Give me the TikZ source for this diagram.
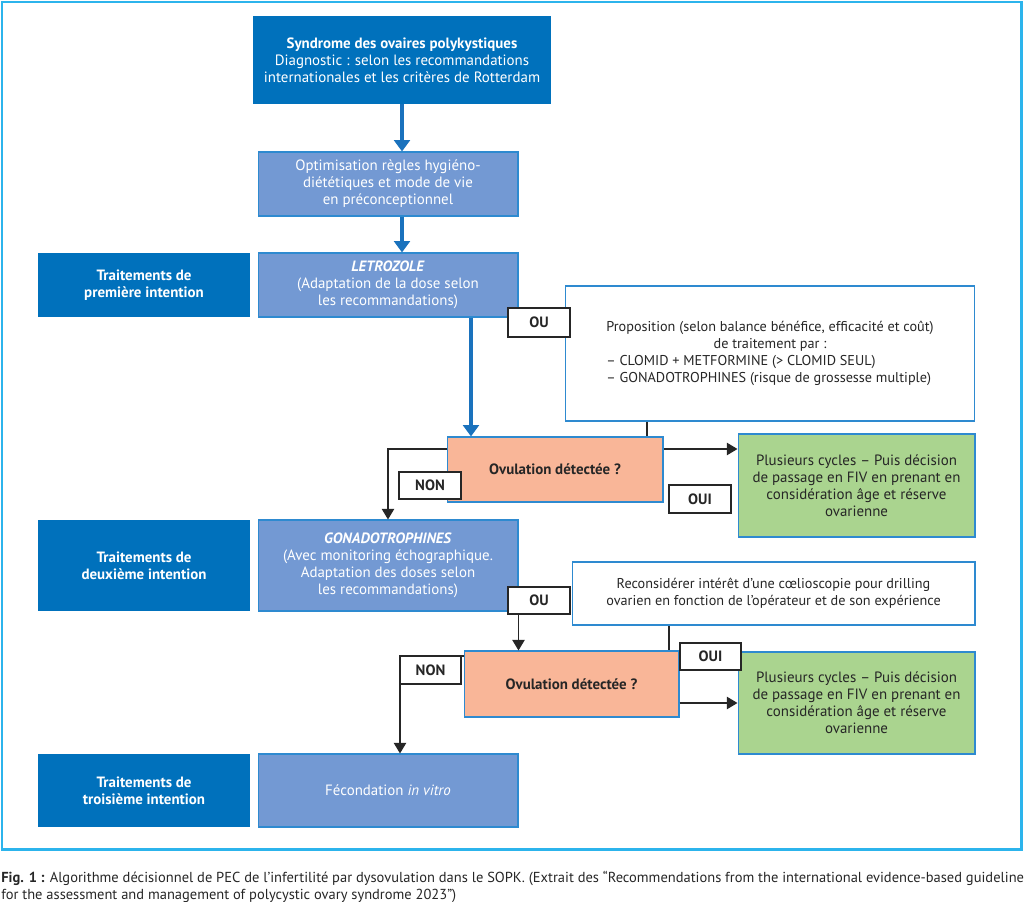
\documentclass[tikz,border=0pt]{standalone}
\usepackage{fontspec}
\setmainfont{PT Sans}
\usetikzlibrary{arrows.meta,positioning,calc}
\definecolor{frameblue}{HTML}{2CB4EC}
\definecolor{darkblue}{HTML}{0071BC}
\definecolor{midblue}{HTML}{7399D3}
\definecolor{edgeblue}{HTML}{2E8AD0}
\definecolor{salmon}{HTML}{F9B698}
\definecolor{leafgreen}{HTML}{AAD48F}
\definecolor{arrowblue}{HTML}{1A72BD}
\newcommand{\chartfont}{\fontsize{8.5}{9.7}\selectfont}
\newcommand{\notefont}{\fontsize{8.1}{9.8}\selectfont}
\newcommand{\capfont}{\fontsize{8.25}{9.4}\selectfont}
\tikzset{
  levelbox/.style={fill=darkblue,text=white,font=\chartfont\bfseries,align=center,inner sep=0pt},
  stepbox/.style={fill=midblue,draw=edgeblue,line width=0.6pt,text=white,font=\chartfont,align=center,inner sep=0pt},
  notebox/.style={fill=white,draw=edgeblue,line width=0.6pt,text=black!85,font=\notefont,align=center,inner sep=0pt},
  askbox/.style={fill=salmon,draw=edgeblue,line width=0.6pt,text=black!85,font=\chartfont\bfseries,align=center,inner sep=0pt},
  endbox/.style={fill=leafgreen,draw=edgeblue,line width=0.6pt,text=black!85,font=\chartfont,align=center,inner sep=0pt},
  tag/.style={fill=white,draw=black!85,line width=0.6pt,text=black!85,font=\chartfont\bfseries,inner sep=0pt},
  flow/.style={-{Triangle[width=9pt,length=6.5pt]},arrowblue,line width=2.8pt},
  link/.style={-{Triangle[width=7pt,length=6pt]},black!85,line width=0.7pt},
  plain/.style={black!85,line width=0.7pt}
}

\begin{document}
\begin{tikzpicture}[x=0.02cm,y=-0.02cm]
  \useasboundingbox (0,0) rectangle (1024,902);
  % outer frame
  \draw[frameblue,line width=1.7pt] (2,2) rectangle (1021,849);
  % main column
  \node[levelbox,minimum width=5.96cm,minimum height=1.76cm] (sopk) at (402,60)
    {Syndrome des ovaires polykystiques\\\mdseries Diagnostic : selon les recommandations\\\mdseries internationales et les critères de Rotterdam};
  \node[stepbox,minimum width=5.2cm,minimum height=1.28cm] (optim) at (388,184)
    {Optimisation règles hygiéno-\\diététiques et mode de vie\\en préconceptionnel};
  % first line of treatment
  \node[levelbox,minimum width=4.24cm,minimum height=1.28cm] (lvl1) at (144,285)
    {Traitements de\\première intention};
  \node[stepbox,minimum width=5.2cm,minimum height=1.28cm] (letro) at (388,285)
    {\textbf{\textit{LETROZOLE}}\\(Adaptation de la dose selon\\les recommandations)};
  \node[notebox,minimum width=8.2cm,minimum height=2.7cm] (prop) at (770,353.5)
    {\begin{tabular}{@{}l@{}}
     \multicolumn{1}{@{}c@{}}{Proposition (selon balance bénéfice, efficacité et coût)}\\
     \multicolumn{1}{@{}c@{}}{de traitement par :}\\
     – CLOMID + METFORMINE (> CLOMID SEUL)\\
     – GONADOTROPHINES (risque de grossesse multiple)
     \end{tabular}};
  \node[askbox,minimum width=4.32cm,minimum height=1.3cm] (ovul1) at (555,469.5)
    {Ovulation détectée ?};
  \node[endbox,minimum width=4.74cm,minimum height=2.06cm] (fiv1) at (856.5,485.5)
    {Plusieurs cycles – Puis décision\\de passage en FIV en prenant en\\considération âge et réserve\\ovarienne};
  % second line of treatment
  \node[levelbox,minimum width=4.24cm,minimum height=1.82cm] (lvl2) at (144,565.5)
    {Traitements de\\deuxième intention};
  \node[stepbox,minimum width=5.2cm,minimum height=1.82cm] (gonado) at (388,565.5)
    {\textbf{\textit{GONADOTROPHINES}}\\(Avec monitoring échographique.\\Adaptation des doses selon\\les recommandations)};
  \node[notebox,minimum width=8.06cm,minimum height=1.26cm] (drill) at (773.5,593.5)
    {Reconsidérer intérêt d’une cœlioscopie pour drilling\\ovarien en fonction de l’opérateur et de son expérience};
  \node[askbox,minimum width=4.3cm,minimum height=1.32cm] (ovul2) at (571.5,684)
    {Ovulation détectée ?};
  \node[endbox,minimum width=4.74cm,minimum height=2.04cm] (fiv2) at (856.5,703)
    {Plusieurs cycles – Puis décision\\de passage en FIV en prenant en\\considération âge et réserve\\ovarienne};
  % third line of treatment
  \node[levelbox,minimum width=4.24cm,minimum height=1.46cm] (lvl3) at (144,790.5)
    {Traitements de\\troisième intention};
  \node[stepbox,minimum width=5.2cm,minimum height=1.46cm] (ivf) at (388,790.5)
    {Fécondation \textit{in vitro}};
  % connectors
  \draw[flow] (sopk.south) -- (sopk.south |- optim.north);
  \draw[flow] (sopk.south |- optim.south) -- (sopk.south |- letro.north);
  \draw[flow] ([xshift=1.66cm]letro.south) -- ([xshift=1.66cm]letro.south |- ovul1.north);
  \draw[plain] ([xshift=-2.46cm]prop.south) -- ([xshift=-2.46cm]prop.south |- ovul1.north);
  \draw[link] ([yshift=0.41cm]ovul1.west) -| (gonado.north);
  \draw[link] ([yshift=0.41cm]ovul1.east) -- ([yshift=0.41cm]ovul1.east -| fiv1.west);
  \draw[link] (gonado.south east) -- (gonado.south east |- ovul2.north);
  \draw[plain] ([xshift=-2.09cm]drill.south) -- ([xshift=-2.09cm]drill.south |- ovul2.north);
  \draw[link] ([yshift=0.56cm]ovul2.west) -| ([xshift=0.24cm]ivf.north);
  \draw[link] ([yshift=-0.38cm]ovul2.east) -- ([yshift=-0.38cm]ovul2.east -| fiv2.west);
  % answer tags
  \node[tag,minimum width=1.24cm,minimum height=0.58cm] (ou1) at (539,322.5) {OU};
  \node[tag,minimum width=1.24cm,minimum height=0.54cm] (non1) at (430,485.5) {NON};
  \node[tag,minimum width=1.24cm,minimum height=0.56cm] (oui1) at (700,499) {OUI};
  \node[tag,minimum width=1.24cm,minimum height=0.54cm] (ou2) at (539,600.5) {OU};
  \node[tag,minimum width=1.22cm,minimum height=0.56cm] (non2) at (430.5,670) {NON};
  \node[tag,minimum width=1.22cm,minimum height=0.54cm] (oui2) at (710.5,656.5) {OUI};
  % caption
  \node[anchor=north west,inner sep=0pt,align=left,font=\capfont,text=black!85] (caption) at (1,871)
    {\textbf{Fig. 1 :} Algorithme décisionnel de PEC de l’infertilité par dysovulation dans le SOPK. (Extrait des “Recommendations from the international evidence-based guideline\\for the assessment and management of polycystic ovary syndrome 2023”)};
\end{tikzpicture}
\end{document}
